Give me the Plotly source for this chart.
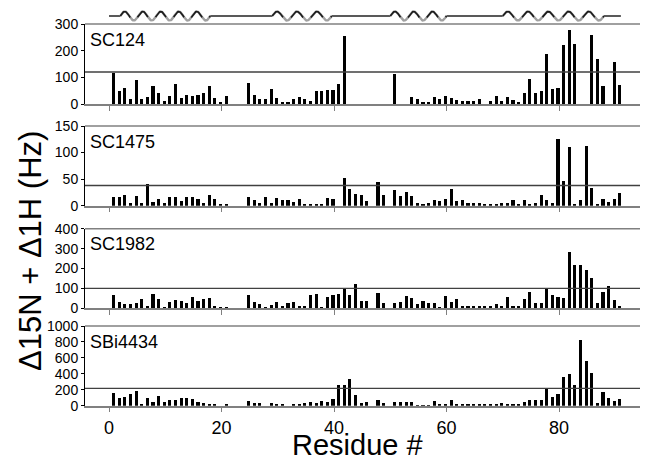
import numpy as np
import plotly.graph_objects as go

N = None
residues = list(range(1, 92))

sc124 = [118, 49, 60, 19, 89, 19, 25, 68, 41, 10, 30, 74, 22, 34, 29, 35, 41, 69, 21, 4,
         30, N, N, N, 80, 32, 20, 19, 55, 21, 7, 4, 20, 25, 20, 11, 49, 50, 52, 51,
         75, 255, N, N, N, N, N, N, N, N, 112, N, N, 25, 17, 9, 7, 27, 19, 30,
         22, 14, 10, 10, 11, 17, N, 12, 31, 10, 25, 15, 5, 41, 94, 41, 49, 186, 55, 61,
         220, 277, 224, N, N, 257, 170, 69, N, 157, 70]
sc1475 = [16, 16, 21, 6, 19, 6, 41, 7, 13, 6, 16, 16, 9, 17, 16, 12, 6, 20, 12, 4,
          4, N, N, N, 16, 11, 6, 17, 6, 14, 10, 10, 7, 13, 4, 4, 4, 4, 14, 12,
          N, 53, 31, 22, 20, 9, N, 45, 21, N, 29, 19, 26, 18, 6, 3, 6, 11, 9, 12,
          32, 9, 10, 6, 6, 6, 4, 4, 3, 6, 5, 11, 4, 10, 4, 5, 20, 10, 5, 126,
          46, 111, 4, 11, 113, 34, 4, 12, 7, 12, 23]
sc1982 = [70, 35, 23, 22, 27, 47, 15, 74, 47, 8, 32, 45, 37, 27, 60, 40, 47, 55, 12, 8,
          8, N, N, N, 67, 32, 23, 10, 20, 32, 15, 28, 32, 12, 12, 69, 72, 7, 59, 67,
          75, 105, 67, 122, 40, 40, N, 80, 28, N, 27, 33, 65, 55, 23, 40, 27, 27, 8, 64,
          32, 47, 15, 12, 12, 12, 12, 12, 25, 12, 57, 15, 15, 49, 82, 27, 27, 105, 69, 60,
          54, 286, 219, 219, 194, 152, 28, 85, 116, 42, 13]
sbi4434 = [155, 92, 105, 146, 188, 17, 96, 46, 117, 46, 75, 75, 96, 92, 88, 50, 29, 17, 17, N,
           17, N, N, N, 59, 29, 29, N, 29, 17, 17, N, 17, 17, 29, 50, 29, 59, 46, 79,
           259, 259, 334, 134, 29, 50, N, 75, 29, N, 46, 46, 46, 46, 8, 8, 8, 59, 21, 13,
           75, 17, 17, 13, 13, 17, 17, 17, 21, 29, 13, 13, 13, 42, 71, 71, 75, 209, 109, 146,
           355, 401, 259, 819, 560, 410, 38, 171, 96, 54, 88]

names = ["SC124", "SC1475", "SC1982", "SBi4434"]
series = [sc124, sc1475, sc1982, sbi4434]
y_max = [300, 150, 400, 1000]
y_ticks = [[0, 100, 200, 300], [0, 50, 100, 150], [0, 100, 200, 300, 400],
           [0, 200, 400, 600, 800, 1000]]
thresholds = [120, 38, 100, 217]
x_ticks = [0, 20, 40, 60, 80]

helices = [(2, 18), (29, 39.6), (50, 60), (70, 88)]
coils = [(0, 2), (18, 29), (39.6, 50), (60, 70), (88, 91)]

W, H = 646, 459
ML, MR = 85, 6
panel_px = [(24, 104), (126, 205.7), (228.7, 308.3), (326, 405.7)]
xr = [-4.27, 94.4]
FONT = "Arial, Liberation Sans, sans-serif"

fig = go.Figure()
layout = {}
shapes = []
annotations = []

for i, (name, vals, ym, tv, thr) in enumerate(zip(names, series, y_max, y_ticks, thresholds), start=1):
    xa = "x" if i == 1 else f"x{i}"
    ya = "y" if i == 1 else f"y{i}"
    fig.add_trace(go.Bar(x=residues, y=vals, xaxis=xa, yaxis=ya, marker_color="black",
                         marker_line_width=0, width=0.55, offset=-0.45, showlegend=False))
    top, bot = panel_px[i - 1]
    dom = [1 - bot / H, 1 - top / H]
    layout[f"xaxis{'' if i == 1 else i}"] = dict(
        domain=[0, 1], range=xr, anchor=ya, tickvals=x_ticks, ticks="outside", ticklen=5,
        tickcolor="#808080", tickwidth=1.2, showline=True, linecolor="#808080", linewidth=1.5,
        showgrid=False, zeroline=False, showticklabels=(i == 4),
        tickfont=dict(size=18, color="black", family=FONT),
        **({} if i == 1 else {"matches": "x"}))
    layout[f"yaxis{'' if i == 1 else i}"] = dict(
        domain=dom, range=[0, ym], anchor=xa, tickvals=tv, ticks="outside", ticklen=3,
        tickcolor="black", showline=True, linecolor="black", linewidth=1,
        showgrid=False, zeroline=False, tickfont=dict(size=14, color="black", family=FONT))
    shapes.append(dict(type="line", xref=f"{xa} domain", yref=f"{ya} domain", x0=0, x1=1,
                       y0=1, y1=1, line=dict(color="#808080", width=1.5)))
    shapes.append(dict(type="line", xref=f"{xa} domain", yref=ya, x0=0, x1=1,
                       y0=thr, y1=thr, line=dict(color="#404040", width=1.3)))
    annotations.append(dict(text=name, xref=f"{xa} domain", yref=f"{ya} domain", x=0.006,
                            y=0.955, xanchor="left", yanchor="top", showarrow=False,
                            font=dict(size=18, color="black", family=FONT)))

# secondary-structure strip
for (a, b) in coils:
    fig.add_trace(go.Scatter(x=[a, b], y=[0, 0], mode="lines", xaxis="x5", yaxis="y5",
                             line=dict(color="#222", width=1.5), showlegend=False,
                             hoverinfo="skip"))
for (a, b) in helices:
    turns = max(1, round((b - a) / 3.3))
    t = np.linspace(0, 1, 200)
    xs = a + t * (b - a)
    ys = np.sin(2 * np.pi * turns * t)
    fig.add_trace(go.Scatter(x=xs, y=ys, mode="lines", xaxis="x5", yaxis="y5",
                             line=dict(color="#a0a0a0", width=2.4), showlegend=False,
                             hoverinfo="skip"))
    yd = np.where(ys > -0.35, ys, np.nan)
    fig.add_trace(go.Scatter(x=xs, y=yd, mode="lines", xaxis="x5", yaxis="y5",
                             line=dict(color="#1a1a1a", width=1.6), showlegend=False,
                             connectgaps=False, hoverinfo="skip"))

layout["xaxis5"] = dict(domain=[0, 1], range=xr, anchor="y5", visible=False, matches="x")
layout["yaxis5"] = dict(domain=[1 - 25 / H, 1 - 7 / H], range=[-2.0, 2.0], anchor="x5",
                        visible=False)

annotations.append(dict(text="Δ15N + Δ1H (Hz)", xref="paper", yref="paper",
                        x=(30 - ML) / (W - ML - MR), y=1 - 251 / H, textangle=-90,
                        xanchor="center", yanchor="middle", showarrow=False,
                        font=dict(size=31, color="black", family=FONT)))
annotations.append(dict(text="Residue #", xref="paper", yref="paper",
                        x=(357 - ML) / (W - ML - MR), y=1 - 445 / H,
                        xanchor="center", yanchor="middle", showarrow=False,
                        font=dict(size=29, color="black", family=FONT)))

fig.update_layout(**layout)
fig.update_layout(width=W, height=H, margin=dict(l=ML, r=MR, t=0, b=0, autoexpand=False),
                  paper_bgcolor="white", plot_bgcolor="white", bargap=0,
                  shapes=shapes, annotations=annotations, font=dict(family=FONT))
fig.write_html("out.html", config={"displayModeBar": False},
               post_script="document.body.style.margin='0px';document.body.style.padding='0px';document.body.style.overflow='hidden';")
